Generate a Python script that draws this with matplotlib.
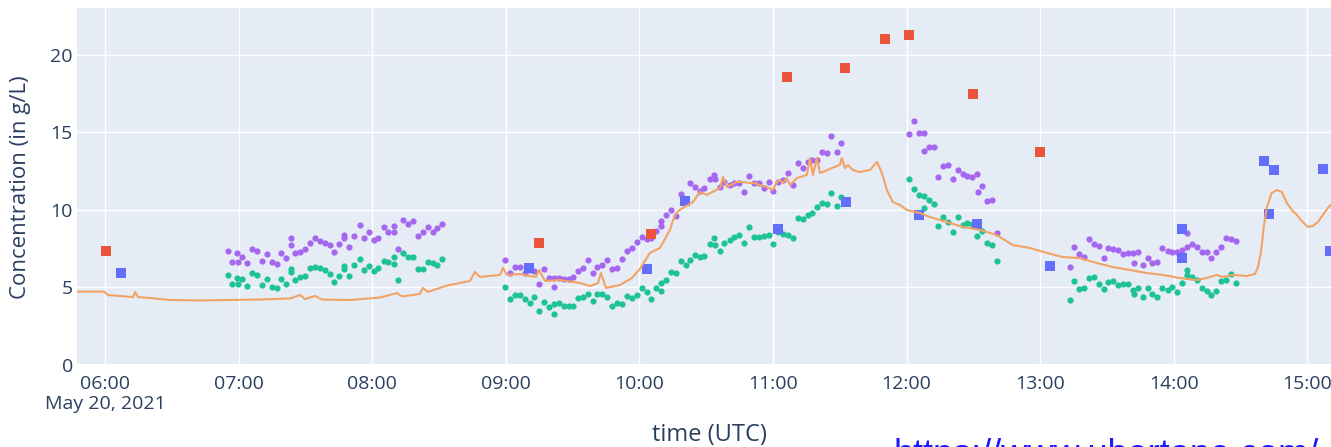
import matplotlib
matplotlib.use("Agg")
import matplotlib.pyplot as plt
import matplotlib.dates as mdates
from matplotlib.ticker import FixedLocator, FuncFormatter
import numpy as np
import pandas as pd

# ---------------------------------------------------------------------------
# Data (times are minutes after 2021-05-20 06:00 UTC, concentrations in g/L)
# ---------------------------------------------------------------------------
START = pd.Timestamp("2021-05-20 06:00")

# Continuous in-situ estimate (orange line)
line_min = [-12.6, -0.4, 1.3, 6.7, 12.6, 13.5, 14.8, 20.2, 29.2, 42.7, 56.1, 69.6,
            83.1, 87.6, 89.8, 94.3, 97.4, 110.0, 123.5, 131.1, 133.4, 141.4, 142.8,
            145.0, 153.6, 159.4, 163.9, 166.1, 168.4, 172.9, 177.4, 178.7, 180.5,
            186.3, 190.8, 193.5, 194.9, 197.6, 204.3, 213.3, 217.8, 221.4, 222.7,
            225.0, 231.3, 236.6, 240.2, 244.7, 249.2, 253.7, 255.1, 256.9, 259.5,
            264.0, 266.3, 267.2, 270.3, 276.2, 277.5, 279.3, 283.8, 286.5, 289.6,
            291.9, 294.1, 297.3, 299.9, 301.7, 303.1, 304.4, 306.2, 307.6, 310.7,
            315.2, 316.6, 317.9, 319.7, 321.1, 322.4, 326.4, 330.0, 330.9, 332.3,
            333.6, 335.9, 339.0, 343.5, 346.7, 348.9, 351.1, 353.8, 357.0, 360.1,
            366.0, 370.4, 378.1, 385.3, 392.9, 400.5, 407.7, 415.4, 423.0, 430.2,
            437.8, 445.4, 452.6, 460.3, 467.9, 475.1, 482.7, 490.3, 494.8, 499.3,
            502.0, 506.5, 512.8, 516.4, 517.7, 519.1, 520.4, 521.8, 524.0, 526.3,
            528.5, 530.8, 533.0, 535.3, 537.9, 540.2, 542.4, 544.7, 546.9, 549.2,
            551.4]
line_val = [4.71, 4.71, 4.49, 4.43, 4.36, 4.69, 4.36, 4.30, 4.17, 4.14, 4.17, 4.20,
            4.27, 4.49, 4.23, 4.43, 4.20, 4.17, 4.33, 4.62, 4.40, 4.56, 4.95,
            4.69, 5.11, 5.27, 5.40, 5.98, 5.66, 5.72, 5.79, 6.24, 5.79,
            5.85, 5.72, 5.66, 6.11, 5.40, 5.46, 5.27, 5.07, 5.27, 5.91,
            4.95, 5.14, 5.59, 6.17, 7.21, 7.53, 8.69, 9.34, 9.86, 10.12,
            10.50, 10.96, 11.15, 10.96, 11.41, 12.12, 11.47, 11.80, 11.80, 11.73,
            11.73, 11.60, 11.47, 11.28, 11.80, 11.93, 11.73, 12.05, 11.60, 12.05,
            12.25, 13.35, 12.25, 13.35, 12.38, 12.44, 12.70, 12.90, 13.35, 12.70,
            12.90, 12.57, 12.44, 12.57, 13.09, 12.38, 11.28, 10.50, 10.31, 9.99,
            9.79, 9.53, 9.21, 8.89, 8.70, 8.37, 7.72, 7.53, 7.21, 6.95,
            6.88, 6.56, 6.30, 6.11, 5.91, 5.79, 5.59, 5.46, 5.59, 5.79,
            5.66, 5.79, 5.72, 5.85, 6.24, 7.21, 8.89, 10.18, 11.09, 11.28,
            11.15, 10.44, 9.99, 9.66, 9.21, 8.89, 8.95, 9.21, 9.66, 10.12,
            10.44]

# Two acoustic estimates (purple and green dots), four measurement runs
run1_min = [55.0, 57.1, 59.2, 59.5, 61.3, 63.7, 66.1, 68.1, 70.3, 72.6, 74.8, 77.1,
            79.0, 81.1, 83.5, 83.5, 85.3, 87.6, 89.8, 92.1, 94.3, 96.6, 98.8, 101.1,
            103.0, 105.1, 107.5, 107.5, 109.6, 112.0, 114.3, 116.5, 118.6, 120.6,
            122.8, 125.1, 127.0, 129.6, 129.6, 131.5, 133.6, 136.0, 138.1, 140.5,
            142.6, 144.9, 147.1, 149.2, 151.5]
run1_purple = [7.35, 6.64, 7.18, 6.64, 6.92, 6.54, 7.44, 7.35, 6.71, 7.12, 6.64, 6.49,
               7.18, 6.86, 8.15, 7.72, 7.23, 7.29, 7.44, 7.83, 8.15, 8.00, 7.87, 7.72,
               7.29, 7.79, 8.37, 8.20, 7.61, 8.30, 9.01, 8.15, 8.58, 8.04,
               8.15, 8.86, 8.58, 8.97, 8.58, 7.44, 9.34, 9.08, 9.25, 8.32,
               8.58, 8.86, 8.58, 8.80, 9.06]
run1_green = [5.78, 5.18, 5.57, 5.18, 5.50, 5.07, 5.89, 5.78, 5.11, 5.50, 4.98, 4.92,
              5.50, 5.20, 6.17, 6.00, 5.44, 5.63, 5.72, 6.21, 6.28, 6.21, 6.10, 5.85,
              5.35, 5.72, 6.36, 6.15, 5.72, 6.43, 6.82, 6.10, 6.36, 6.04,
              6.21, 6.71, 6.60, 6.92, 6.49, 5.46, 7.23, 6.92, 6.92, 6.15,
              6.15, 6.64, 6.54, 6.43, 6.82]

run2_min = [179.5, 181.8, 184.0, 186.3, 188.5, 190.8, 192.7, 195.0, 197.2, 199.3,
            201.5, 201.8, 203.8, 206.0, 208.2, 210.3, 212.5, 214.5, 216.7, 219.0,
            221.1, 223.3, 225.5, 227.8, 230.0, 232.3, 234.3, 236.5, 238.8, 241.0,
            243.3, 245.2, 247.3, 249.5, 249.8, 251.8, 254.0, 256.3, 258.5, 260.8,
            262.8, 265.0, 267.3, 269.2, 271.5, 273.5, 273.8, 276.0, 278.1, 280.5,
            282.5, 284.8, 287.0, 289.0, 291.3, 293.5, 295.8, 298.0, 300.0, 302.2,
            304.5, 306.7, 308.8, 311.0, 313.3, 315.5, 317.5, 319.8, 322.0, 324.3,
            326.2, 328.8, 330.7]
run2_purple = [6.76, 5.89, 6.28, 6.28, 5.89, 6.11, 6.07, 5.20, 6.15, 5.57,
               5.57, 4.99, 5.57, 5.50, 5.50, 5.68, 6.07, 6.22, 6.76, 5.89,
               6.32, 6.43, 6.76, 6.15, 6.22, 6.80, 7.36, 7.51, 7.94, 8.26,
               8.12, 8.19, 8.65, 8.95, 9.30, 9.66, 9.99, 9.62, 11.02, 10.53,
               11.71, 11.50, 11.24, 11.39, 11.97, 12.25, 11.97, 11.49, 11.80, 11.60,
               11.75, 11.75, 11.17, 12.18, 11.75, 11.71, 11.39, 11.82, 11.24, 11.82,
               11.93, 12.40, 11.60, 13.00, 12.68, 13.11, 13.22, 13.22, 13.76, 13.65,
               14.77, 13.71, 14.34]
run2_green = [4.99, 4.21, 4.49, 4.49, 4.21, 4.00, 4.34, 3.48, 4.06, 3.74,
              3.91, 3.26, 4.00, 3.78, 3.78, 3.78, 4.28, 4.34, 4.56, 4.13,
              4.56, 4.56, 4.34, 3.78, 4.00, 3.91, 4.43, 4.28, 4.49, 4.92,
              4.71, 4.21, 4.92, 4.77, 5.25, 5.46, 6.00, 5.94, 6.71, 6.43,
              6.75, 7.08, 6.93, 7.00, 7.79, 8.16, 7.70, 7.36, 7.87, 8.05,
              8.22, 8.37, 7.83, 8.91, 8.22, 8.22, 8.31, 8.37, 7.79, 8.59,
              8.43, 8.37, 8.15, 9.45, 9.38, 9.66, 9.77, 10.16, 10.42, 10.37,
              11.06, 10.25, 10.85]

run3_min = [361.0, 363.3, 365.5, 367.8, 367.9, 370.0, 372.3, 374.2, 376.5, 378.7,
            381.0, 382.9, 385.2, 387.3, 389.5, 391.8, 391.9, 394.0, 396.1, 398.4,
            400.5]
run3_purple = [14.90, 15.76, 14.94, 14.94, 13.80, 14.04, 14.08, 12.14, 12.83, 12.89,
               11.97, 12.57, 12.29, 12.20, 12.10, 12.31, 11.17, 11.54, 10.59, 10.63,
               8.48]
run3_green = [11.99, 11.34, 10.95, 10.91, 10.09, 10.63, 10.37, 8.95, 9.51, 9.23,
              8.58, 9.55, 9.02, 9.12, 9.08, 8.30, 9.05, 8.65, 7.87, 7.72,
              6.71]

run4_min = [433.3, 435.2, 437.3, 439.7, 441.8, 444.1, 446.3, 448.6, 450.5, 452.8,
            455.0, 457.3, 459.5, 461.8, 461.9, 464.0, 466.3, 468.2, 470.3, 472.6,
            474.8, 477.2, 479.3, 481.6, 483.5, 485.8, 485.9, 488.0, 490.3, 492.5,
            494.8, 496.7, 499.0, 501.2, 503.3, 505.6, 507.8]
run4_purple = [6.32, 7.57, 7.14, 6.97, 8.09, 7.77, 7.68, 6.86, 7.51, 7.47,
               7.40, 7.14, 7.19, 7.23, 6.54, 7.29, 6.43, 6.86, 6.54, 6.65,
               7.51, 7.34, 7.29, 7.29, 7.40, 8.52, 7.62, 7.79, 7.57, 7.29,
               7.29, 6.86, 7.25, 7.62, 8.20, 8.11, 8.00]
run4_green = [4.17, 5.42, 4.88, 4.92, 5.57, 5.63, 5.20, 4.88, 5.35, 5.42,
              5.14, 5.20, 5.18, 4.81, 4.56, 4.92, 4.34, 4.92, 4.56, 4.34,
              4.92, 4.81, 5.03, 4.71, 5.29, 6.11, 5.79, 5.68, 5.46, 4.92,
              4.77, 4.49, 4.77, 5.42, 5.46, 5.85, 5.25]

# Bottle samples (squares)
red_min = [0.4, 194.9, 245.2, 306.3, 332.5, 350.2, 361.0, 389.6, 420.1]
red_val = [7.36, 7.83, 8.42, 18.60, 19.19, 21.04, 21.30, 17.47, 13.74]
blue_min = [7.0, 190.5, 243.2, 260.4, 302.1, 332.6, 365.5, 391.7, 424.5,
            483.5, 483.5, 520.6, 522.7, 525.1, 546.8, 550.1]
blue_val = [5.90, 6.22, 6.15, 10.57, 8.78, 10.52, 9.66, 9.06, 6.39,
            8.76, 6.86, 13.15, 9.73, 12.57, 12.62, 7.36]

y_ticks = [0, 5, 10, 15, 20]
x_title = "time (UTC)"
y_title = "Concentration (in g/L)"
date_label = "May 20, 2021"
source_text = "https://www.ubertone.com/"

# ---------------------------------------------------------------------------
PURPLE = "#A566F0"
GREEN = "#1DC394"
ORANGE = "#F2A263"
RED = "#E8553A"
BLUE = "#636EFA"
TXT = "#2a3f5f"
FONT = ["Open Sans", "DejaVu Sans"]


def when(minutes):
    return START + pd.to_timedelta(np.asarray(minutes, dtype=float), unit="min")


W, H = 1331, 447
fig = plt.figure(figsize=(W / 100, H / 100), dpi=100)
fig.patch.set_facecolor("white")
ax = fig.add_axes([77 / W, (H - 367) / H, (W - 77) / W, 359 / H])
ax.set_facecolor("#E5ECF6")

dot_kw = dict(s=20, linewidths=0, zorder=3)
for t, p, g in [(run1_min, run1_purple, run1_green),
                (run2_min, run2_purple, run2_green),
                (run3_min, run3_purple, run3_green),
                (run4_min, run4_purple, run4_green)]:
    ax.scatter(when(t), p, color=PURPLE, **dot_kw)
    ax.scatter(when(t), g, color=GREEN, **dot_kw)

ax.scatter(when(red_min), red_val, marker="s", s=52, color=RED, linewidths=0, zorder=4)
ax.scatter(when(blue_min), blue_val, marker="s", s=52, color=BLUE, linewidths=0, zorder=4)
ax.plot(when(line_min), line_val, color=ORANGE, lw=1.5, zorder=5)

ax.set_xlim(when([-12.6])[0], when([550.6])[0])
ax.set_ylim(-0.16, 23.04)

# grid and zero line
ax.yaxis.set_major_locator(FixedLocator(y_ticks))
ax.xaxis.set_major_locator(mdates.HourLocator())
first_tick = mdates.date2num(START)


def fmt_time(x, pos):
    d = mdates.num2date(x)
    s = d.strftime("%H:%M")
    if abs(x - first_tick) < 1e-6:
        s += "\n" + date_label
    return s


ax.xaxis.set_major_formatter(FuncFormatter(fmt_time))
ax.grid(True, color="white", lw=1.0, zorder=0)
ax.set_axisbelow(True)
ax.axhline(0, color="white", lw=2.2, zorder=1)
for sp in ax.spines.values():
    sp.set_visible(False)

ax.tick_params(axis="both", length=0, labelsize=14, labelcolor=TXT)
ax.tick_params(axis="x", pad=6)
ax.tick_params(axis="y", pad=3)
for lab in ax.get_xticklabels() + ax.get_yticklabels():
    lab.set_family(FONT)
for lab in ax.get_xticklabels():
    lab.set_linespacing(1.15)

ax.set_ylabel(y_title, fontsize=16, color=TXT, family=FONT)
ax.yaxis.label.set_va("center")
ax.yaxis.set_label_coords(-0.0447, 0.5)
ax.set_xlabel(x_title, fontsize=17, color=TXT, family=FONT)
ax.xaxis.set_label_coords(0.504, -0.19)
ax.xaxis.label.set_va("center")

# source link running off the lower edge of the canvas
fig.text(893 / W, (H - 465) / H, source_text, fontsize=26, color="#1a1aff",
         family=["Liberation Sans", "DejaVu Sans"], va="baseline", ha="left")

fig.savefig("out.png", dpi=100, facecolor="white")
